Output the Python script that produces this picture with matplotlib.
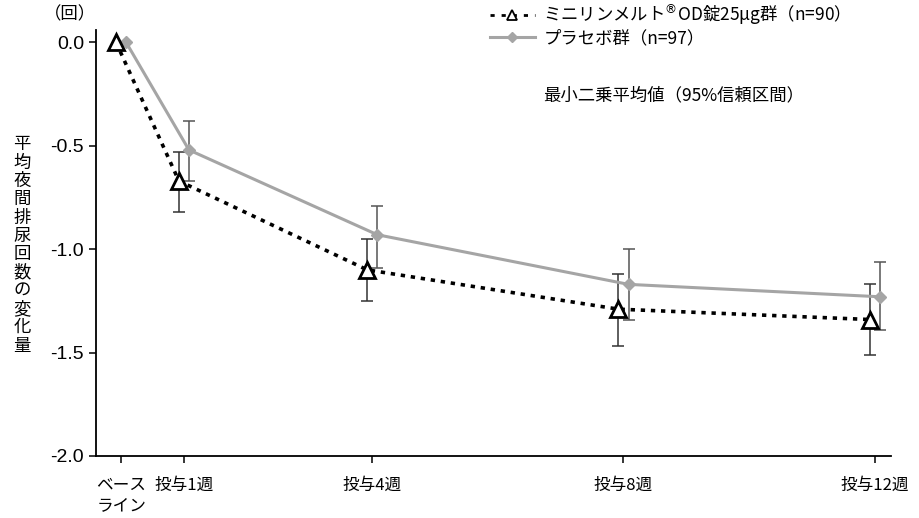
import matplotlib
matplotlib.use("Agg")
from matplotlib import pyplot as plt
from matplotlib.lines import Line2D
import numpy as np

plt.rcParams['font.family'] = ['Noto Sans CJK JP', 'DejaVu Sans']

weeks = [0, 1, 4, 8, 12]
week_labels = ['ベース\nライン', '投与1週', '投与4週', '投与8週', '投与12週']
y_ticks = [0.0, -0.5, -1.0, -1.5, -2.0]

# ミニリンメルト OD錠 25μg群
mini_mean = [0.0, -0.67, -1.10, -1.29, -1.34]
mini_lo = [None, -0.82, -1.25, -1.47, -1.51]
mini_hi = [None, -0.53, -0.95, -1.12, -1.17]

# プラセボ群
plac_mean = [0.0, -0.52, -0.93, -1.17, -1.23]
plac_lo = [None, -0.67, -1.09, -1.34, -1.39]
plac_hi = [None, -0.38, -0.79, -1.00, -1.06]

offset = 0.08
dots = (0, (1.2, 1.6))


def err(mean, lo, hi):
    low = [0 if l is None else m - l for m, l in zip(mean, lo)]
    up = [0 if h is None else h - m for m, h in zip(mean, hi)]
    return np.array([low, up])


fig = plt.figure(figsize=(9.2, 5.18), dpi=100)
ax = fig.add_axes([96 / 920, 62 / 518, 795 / 920, 426 / 518])

x_m = np.array(weeks) - offset
x_p = np.array(weeks) + offset

ax.errorbar(x_p[1:], plac_mean[1:], yerr=err(plac_mean, plac_lo, plac_hi)[:, 1:],
            fmt='none', ecolor='#555555', elinewidth=1.1, capsize=4, capthick=1.1, zorder=2)
ax.errorbar(x_m[1:], mini_mean[1:], yerr=err(mini_mean, mini_lo, mini_hi)[:, 1:],
            fmt='none', ecolor='#333333', elinewidth=1.1, capsize=4, capthick=1.1, zorder=2)

ax.plot(x_p, plac_mean, color='#a5a5a5', lw=2.2, marker='D', ms=6.5,
        mfc='#a5a5a5', mec='#a5a5a5', zorder=3)
ax.plot(x_m, mini_mean, color='black', lw=2.6, ls=dots, marker='^', ms=11,
        mfc='white', mec='black', mew=2, zorder=4)

ax.set_xlim(-0.4, 12.26)
ax.set_ylim(-2.0, 0.06)
ax.set_yticks(y_ticks)
ax.set_yticklabels(['%.1f' % v for v in y_ticks], fontsize=14, family='Liberation Sans')
ax.set_xticks(weeks)
ax.set_xticklabels(week_labels, fontsize=12, linespacing=1.25)
for lbl in ax.get_xticklabels():
    lbl.set_verticalalignment('top')
    lbl.set_multialignment('left')

ax.spines['top'].set_visible(False)
ax.spines['right'].set_visible(False)
ax.spines['left'].set_linewidth(1.3)
ax.spines['bottom'].set_linewidth(1.3)
ax.tick_params(axis='both', length=5, width=1.1, colors='black')
ax.tick_params(axis='x', pad=10)

legend_handles = [
    Line2D([], [], color='black', lw=2, ls=(0, (1.5, 2.5)), marker='^', ms=7,
           mfc='white', mec='black', mew=1.3),
    Line2D([], [], color='#a5a5a5', lw=2.2, marker='D', ms=5.5,
           mfc='#a5a5a5', mec='#a5a5a5'),
]
legend_labels = ['ミニリンメルト$^{®}$OD錠25μg群（n=90）', 'プラセボ群（n=97）']
ax.legend(legend_handles, legend_labels, loc='upper left', bbox_to_anchor=(0.495, 1.065),
          frameon=False, fontsize=12.5, handlelength=2.6, handletextpad=0.5,
          labelspacing=0.1, borderaxespad=0, borderpad=0)

fig.text(543 / 920, 1 - 95 / 518, '最小二乗平均値（95%信頼区間）', fontsize=12.5, va='center')
fig.text(70 / 920, 1 - 14 / 518, '（回）', fontsize=12.5, va='center', ha='center')
fig.text(22 / 920, 1 - 245 / 518, '\n'.join('平均夜間排尿回数の変化量'), fontsize=12.5,
         va='center', ha='center', linespacing=1.02)

fig.savefig('out.png', dpi=100)
